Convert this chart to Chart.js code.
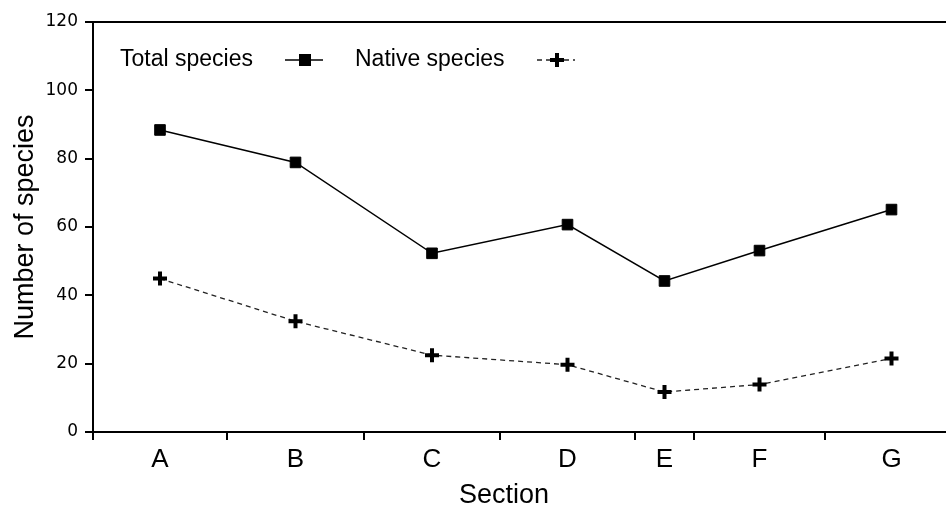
<!DOCTYPE html>
<html>
<head>
<meta charset="utf-8">
<script src="https://cdn.jsdelivr.net/npm/chart.js@4.4.1/dist/chart.umd.min.js"></script>
<style>
  html, body { margin: 0; padding: 0; background: #fff; }
  #wrap { width: 946px; height: 512px; }
</style>
</head>
<body>
<div id="wrap"><canvas id="speciesChart"></canvas></div>
<script>
// --- data ---
const sections = ['A', 'B', 'C', 'D', 'E', 'F', 'G'];
// section boundaries along the river (relative length units)
const sectionBounds = [0, 134, 271, 407, 542, 601, 732, 865];
const xVisibleMax = 853;
const totalSpecies = [88.4, 78.9, 52.3, 60.7, 44.2, 53.1, 65.1];
const nativeSpecies = [44.9, 32.4, 22.5, 19.7, 11.7, 13.9, 21.5];
const yTicks = [0, 20, 40, 60, 80, 100, 120];

const FONT = "'Liberation Sans', Arial, sans-serif";

// section centres = middle of each section
const sectionMid = sections.map((s, i) => (sectionBounds[i] + sectionBounds[i + 1]) / 2);
const midLabel = {};
sectionMid.forEach((m, i) => { midLabel[m] = sections[i]; });
const edgeSet = new Set(sectionBounds);
const xTickValues = sectionBounds.concat(sectionMid).filter(v => v <= xVisibleMax).sort((a, b) => a - b);

// legend, top frame and x title
const frameLegend = {
    id: 'frameLegend',
    afterDraw(chart) {
        const ctx = chart.ctx;
        const a = chart.chartArea;
        ctx.save();
        ctx.strokeStyle = '#000';
        ctx.lineWidth = 2;
        ctx.beginPath();
        ctx.moveTo(a.left, a.top);
        ctx.lineTo(chart.width, a.top);
        ctx.stroke();

        ctx.fillStyle = '#000';
        ctx.textBaseline = 'middle';
        ctx.textAlign = 'center';
        ctx.font = '27px ' + FONT;
        ctx.fillText('Section', 504, 496);

        ctx.textAlign = 'left';
        ctx.font = '23px ' + FONT;
        const ly = 60;
        ctx.fillText('Total species', 120, ly);
        ctx.fillText('Native species', 355, ly);

        // solid line with square
        ctx.lineWidth = 1.5;
        ctx.beginPath();
        ctx.moveTo(285, ly); ctx.lineTo(323, ly);
        ctx.stroke();
        ctx.fillRect(299, ly - 6, 12, 12);

        // dashed line with plus
        ctx.strokeStyle = '#222';
        ctx.lineWidth = 1.3;
        ctx.setLineDash([5, 4]);
        ctx.beginPath();
        ctx.moveTo(537, ly); ctx.lineTo(575, ly);
        ctx.stroke();
        ctx.setLineDash([]);
        ctx.strokeStyle = '#000';
        ctx.lineWidth = 4;
        ctx.beginPath();
        ctx.moveTo(550, ly); ctx.lineTo(564, ly);
        ctx.moveTo(557, ly - 7); ctx.lineTo(557, ly + 7);
        ctx.stroke();
        ctx.restore();
    }
};

new Chart(document.getElementById('speciesChart'), {
    type: 'line',
    data: {
        datasets: [
            {
                label: 'Total species',
                data: totalSpecies.map((v, i) => ({ x: sectionMid[i], y: v })),
                borderColor: '#000',
                borderWidth: 1.5,
                pointStyle: 'rect',
                pointRadius: 7.5,
                pointBorderWidth: 1,
                pointBackgroundColor: '#000',
                pointBorderColor: '#000',
                tension: 0
            },
            {
                label: 'Native species',
                data: nativeSpecies.map((v, i) => ({ x: sectionMid[i], y: v })),
                borderColor: '#222',
                borderWidth: 1.3,
                borderDash: [5, 4],
                pointStyle: 'cross',
                pointRadius: 7,
                pointBorderWidth: 4,
                pointBorderColor: '#000',
                tension: 0
            }
        ]
    },
    options: {
        responsive: true,
        maintainAspectRatio: false,
        animation: false,
        layout: { autoPadding: false, padding: { top: 22, right: 0, bottom: 0, left: 0 } },
        plugins: {
            legend: { display: false },
            tooltip: { enabled: false }
        },
        scales: {
            x: {
                type: 'linear',
                min: 0,
                max: xVisibleMax,
                afterBuildTicks: s => { s.ticks = xTickValues.map(v => ({ value: v })); },
                afterFit: s => { s.height = 80; s.paddingLeft = 0; s.paddingRight = 0; },
                ticks: {
                    autoSkip: false,
                    maxRotation: 0,
                    padding: 4,
                    color: '#000',
                    font: { family: FONT, size: 26 },
                    callback: v => midLabel[v] || ''
                },
                grid: {
                    drawOnChartArea: false,
                    drawTicks: true,
                    tickLength: 8,
                    lineWidth: 2,
                    color: c => (c.tick && edgeSet.has(c.tick.value)) ? '#000' : 'rgba(0,0,0,0)'
                },
                border: { color: '#000', width: 2 }
            },
            y: {
                min: 0,
                max: 120,
                afterBuildTicks: s => { s.ticks = yTicks.map(v => ({ value: v })); },
                afterFit: s => { s.width = 93; },
                ticks: {
                    padding: 7,
                    color: '#000',
                    font: { family: "'DejaVu Sans', sans-serif", size: 17 }
                },
                grid: {
                    drawOnChartArea: false,
                    drawTicks: true,
                    tickLength: 8,
                    lineWidth: 2,
                    color: '#000'
                },
                border: { color: '#000', width: 2 },
                title: {
                    display: true,
                    text: 'Number of species',
                    color: '#000',
                    font: { family: FONT, size: 27 },
                    padding: { top: 9, bottom: 0 }
                }
            }
        }
    },
    plugins: [frameLegend]
});
</script>
</body>
</html>
